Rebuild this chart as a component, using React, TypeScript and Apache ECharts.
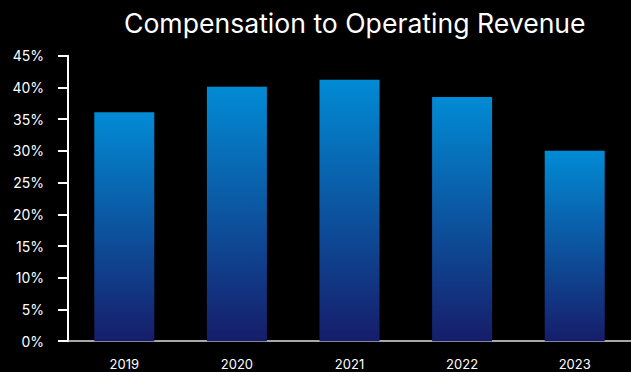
import React, { useEffect, useRef } from "react";
import * as echarts from "echarts";

const categories = ["2019", "2020", "2021", "2022", "2023"];
const values = [36.1, 40.1, 41.2, 38.5, 30.0];
const yTicks = [0, 5, 10, 15, 20, 25, 30, 35, 40, 45];

export default function App() {
  const ref = useRef<HTMLDivElement>(null);
  useEffect(() => {
    document.body.style.margin = "0";
    document.body.style.background = "#000";
    const chart = echarts.init(ref.current!, null, { renderer: "svg" });
    chart.setOption({
      animation: false,
      backgroundColor: "#000000",
      title: {
        text: "Compensation to Operating Revenue",
        left: 119,
        top: 4,
        textStyle: { color: "#ffffff", fontSize: 26.6, fontWeight: "normal", fontFamily: "Inter" },
      },
      grid: { left: 68, top: 55.7, width: 566, height: 285.5, containLabel: false },
      xAxis: {
        type: "category",
        data: categories,
        axisLine: { lineStyle: { color: "#e0e0e0", width: 1.5 } },
        axisTick: { show: false },
        axisLabel: { color: "#ffffff", fontSize: 13, fontFamily: "Inter", margin: 16 },
      },
      yAxis: {
        type: "value",
        min: yTicks[0],
        max: yTicks[yTicks.length - 1],
        interval: 5,
        splitLine: { show: false },
        axisLine: { show: true, lineStyle: { color: "#ffffff", width: 2 } },
        axisTick: { show: true, length: 10, lineStyle: { color: "#ffffff", width: 2 } },
        axisLabel: {
          color: "#ffffff",
          fontSize: 14,
          fontFamily: "Inter",
          margin: 24,
          formatter: (v: number) => `${v}%`,
        },
      },
      series: [
        {
          type: "bar",
          data: values,
          barWidth: 60,
          itemStyle: {
            color: new echarts.graphic.LinearGradient(0, 0, 0, 1, [
              { offset: 0, color: "#028bd5" },
              { offset: 1, color: "#161d6a" },
            ]),
          },
        },
      ],
    });
    return () => chart.dispose();
  }, []);
  return <div ref={ref} style={{ width: 631, height: 372 }} />;
}
